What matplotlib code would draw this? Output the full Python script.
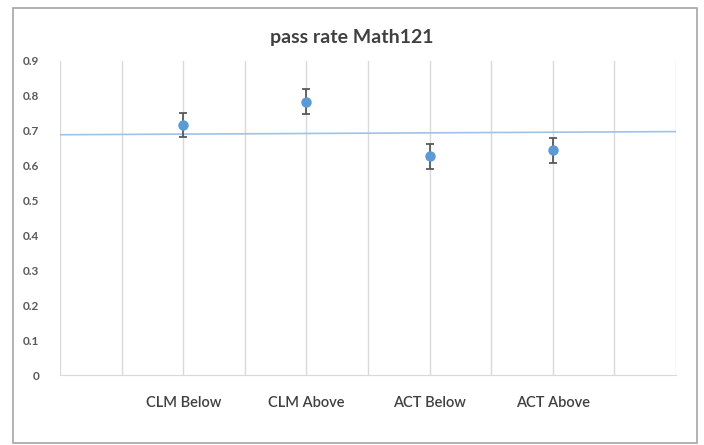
import matplotlib.pyplot as plt
from matplotlib.patches import Rectangle

# data
categories = ['CLM Below', 'CLM Above', 'ACT Below', 'ACT Above']
pass_rate = [0.716, 0.783, 0.626, 0.643]
err = [0.035, 0.036, 0.036, 0.035]
trend_x = [0, 5]
trend_y = [0.688, 0.697]
y_ticks = [0, 0.1, 0.2, 0.3, 0.4, 0.5, 0.6, 0.7, 0.8, 0.9]

plt.rcParams['font.family'] = ['Lato', 'DejaVu Sans']

fig = plt.figure(figsize=(7.04, 4.45), dpi=100)
fig.patches.append(Rectangle((13 / 704, 2 / 445), 684 / 704, 435 / 445,
                             transform=fig.transFigure, fill=False,
                             edgecolor='#a6a6a6', linewidth=1.2))

ax = fig.add_axes([60 / 704, 70 / 445, 616 / 704, 314.3 / 445])
xs = list(range(1, len(categories) + 1))

ax.plot(trend_x, trend_y, color='#9dc3e6', linewidth=1.2, zorder=2)
ax.errorbar(xs, pass_rate, yerr=err, fmt='o', color='#5b9bd5', markersize=6.5,
            ecolor='#595959', elinewidth=1.3, capsize=3, capthick=1.3, zorder=3)

ax.set_xlim(0, 5)
ax.set_ylim(0, 0.9)
ax.xaxis.remove_overlapping_locs = False
ax.set_xticks(xs)
ax.set_xticklabels(categories, fontweight='semibold')
ax.tick_params(axis='x', which='major', length=0, pad=15, labelsize=10.5, labelcolor='#404040')
ax.set_xticks([i * 0.5 for i in range(11)], minor=True)
ax.tick_params(axis='x', which='minor', length=0)
ax.xaxis.grid(True, which='minor', color='#d9d9d9', linewidth=1)

ax.set_yticks(y_ticks)
ax.set_yticklabels(['0'] + ['%.1f' % v for v in y_ticks[1:]])
ax.tick_params(axis='y', length=0, pad=15, labelsize=8.5, labelcolor='#595959')
for lbl in ax.get_yticklabels():
    lbl.set_fontweight('bold')

for s in ['top', 'right', 'left']:
    ax.spines[s].set_visible(False)
ax.spines['bottom'].set_color('#d9d9d9')
ax.set_axisbelow(True)

fig.text(352 / 704, 1 - 38 / 445, 'pass rate Math121', ha='center', va='center',
         fontsize=14, fontweight='bold', color='#404040')

fig.savefig('out.png', dpi=100)
